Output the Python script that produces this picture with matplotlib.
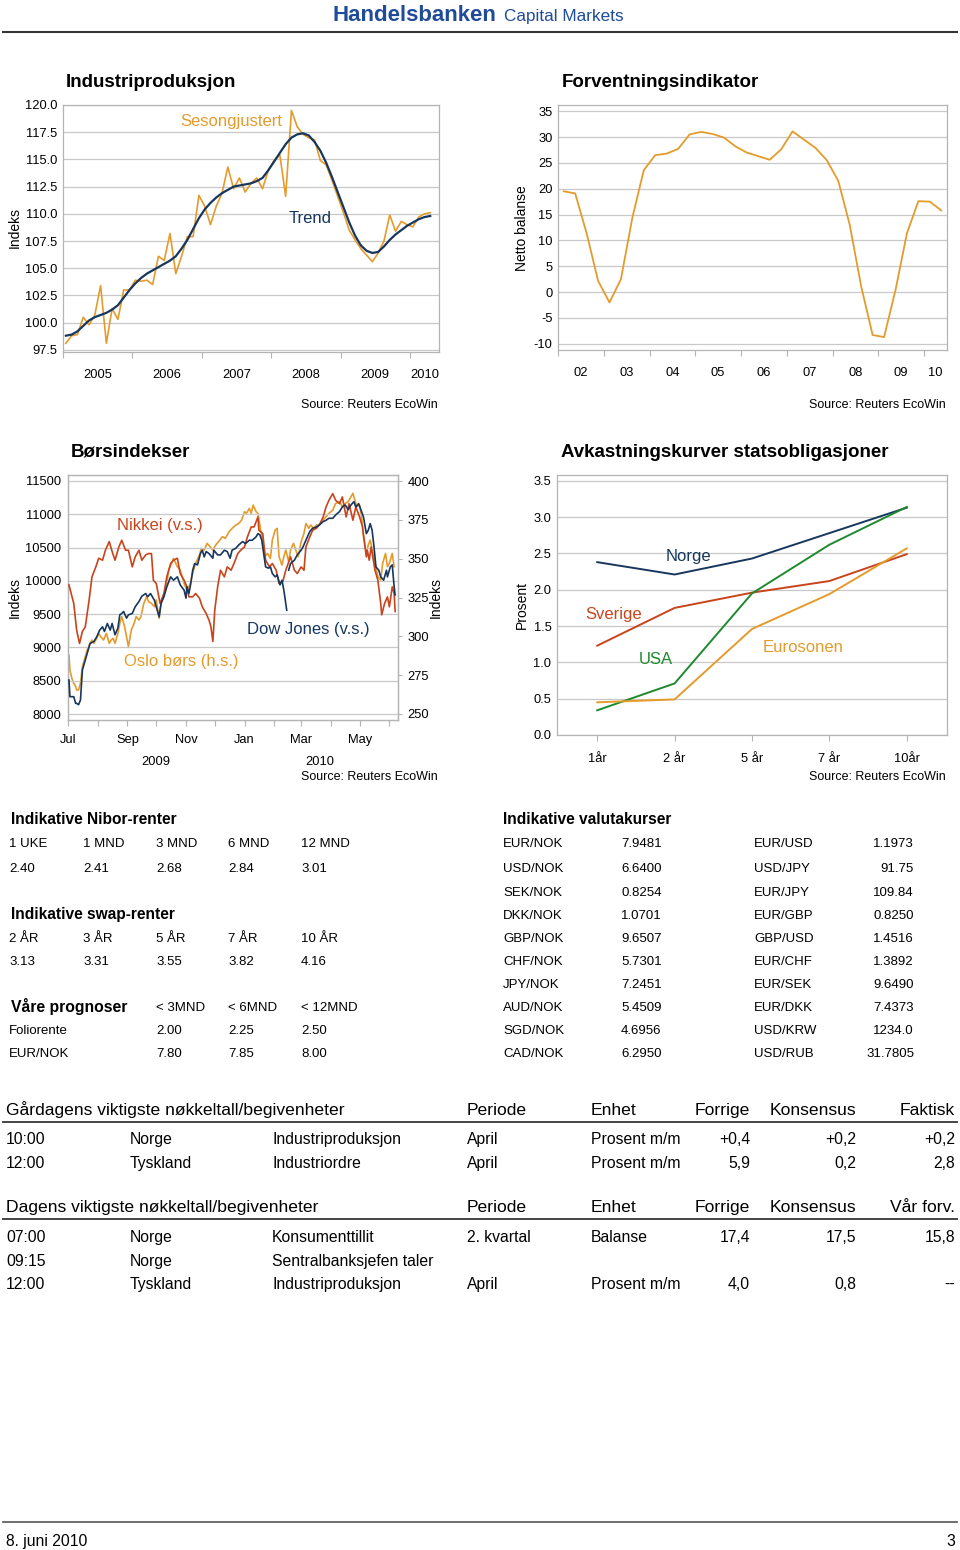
import numpy as np
import matplotlib
matplotlib.use("Agg")
import matplotlib.pyplot as plt
from matplotlib import font_manager

# ---------------- data ----------------
ip_sa = [98.1, 98.8, 98.9, 100.5, 99.8, 100.7, 103.4, 98.1, 101.3, 100.3, 103.0, 103.0,
         103.9, 103.8, 103.9, 103.5, 106.1, 105.7, 108.2, 104.5, 106.1, 107.9, 107.9, 111.7,
         110.7, 109.0, 110.7, 111.9, 114.3, 112.3, 113.3, 112.0, 112.8, 113.3, 112.3, 114.0,
         114.9, 115.4, 111.6, 119.5, 118.0, 117.3, 117.0, 116.8, 114.9, 114.5, 113.1, 111.6,
         110.1, 108.5, 107.6, 106.8, 106.2, 105.6, 106.4, 107.5, 109.9, 108.4, 109.3, 109.0,
         108.8, 109.7, 110.0, 110.1]
ip_trend = [98.8, 98.9, 99.2, 99.7, 100.2, 100.5, 100.7, 100.9, 101.2, 101.6, 102.3, 103.0,
            103.6, 104.1, 104.5, 104.8, 105.1, 105.4, 105.7, 106.1, 106.8, 107.6, 108.6, 109.6,
            110.4, 111.0, 111.5, 111.9, 112.2, 112.5, 112.6, 112.7, 112.8, 113.0, 113.3, 114.0,
            114.8, 115.6, 116.4, 117.0, 117.3, 117.4, 117.2, 116.6, 115.8, 114.7, 113.4, 112.0,
            110.6, 109.2, 108.0, 107.1, 106.6, 106.4, 106.5, 107.0, 107.6, 108.1, 108.5, 108.9,
            109.2, 109.5, 109.7, 109.8]
ip_start_year = 2005
ip_years = ['2005', '2006', '2007', '2008', '2009', '2010']

fi_values = [19.5, 19.1, 11.4, 2.2, -2.0, 2.5, 14.4, 23.6, 26.5, 26.8, 27.7, 30.5,
             31.0, 30.6, 29.9, 28.2, 27.0, 26.3, 25.6, 27.6, 31.1, 29.5, 27.9, 25.5,
             21.5, 13.0, 1.1, -8.3, -8.7, 0.4, 11.4, 17.6, 17.5, 15.8]
fi_start_year = 2002
fi_years = ['02', '03', '04', '05', '06', '07', '08', '09', '10']

# days since 1 July 2009
nikkei_day = [1, 6, 9, 12, 15, 18, 22, 25, 29, 32, 36, 39, 43, 46, 49, 53, 56, 60, 63, 67,
              70, 74, 77, 81, 84, 87, 89, 92, 96, 100, 103, 107, 110, 114, 117, 121, 124, 126,
              130, 133, 137, 140, 144, 147, 149, 151, 153, 156, 159, 163, 166, 170, 173, 177,
              180, 184, 187, 191, 194, 198, 199, 203, 206, 210, 213, 217, 220, 224, 227, 232,
              236, 239, 243, 246, 248, 252, 255, 259, 262, 266, 269, 272, 276, 279, 283, 286,
              290, 293, 297, 300, 304, 307, 311, 312, 314, 316, 320, 323, 326, 327, 330, 333,
              335, 338, 340, 341]
nikkei_val = [9940, 9660, 9260, 9060, 9240, 9310, 9710, 10060, 10210, 10340, 10310, 10460,
              10590, 10440, 10310, 10510, 10610, 10460, 10460, 10210, 10360, 10460, 10310,
              10390, 10410, 10410, 10010, 9960, 9660, 9810, 10060, 10260, 10310, 10340, 10110,
              10010, 9910, 9760, 9760, 9810, 9740, 9610, 9510, 9410, 9310, 9090, 9560, 9910,
              10160, 10060, 10210, 10160, 10260, 10410, 10460, 10510, 10660, 10810, 10810,
              10960, 10760, 10710, 10310, 10210, 10260, 10160, 9960, 9990, 10160, 10360,
              10160, 10110, 10210, 10160, 10510, 10660, 10760, 10790, 10840, 10960, 11110,
              11210, 11310, 11210, 11160, 11260, 10960, 11160, 10910, 11110, 10960, 10810,
              10360, 10460, 10310, 10510, 10160, 10010, 9660, 9490, 9660, 9760, 9610, 9910,
              9810, 9540]

dow_day = [1, 2, 6, 8, 9, 11, 13, 15, 17, 20, 23, 27, 30, 33, 36, 38, 41, 44, 46, 49, 52,
           54, 56, 58, 61, 63, 67, 70, 74, 77, 81, 83, 86, 90, 92, 95, 97, 100, 103, 107, 110,
           114, 117, 121, 123, 124, 126, 128, 130, 132, 135, 138, 140, 142, 144, 147, 151,
           152, 156, 159, 163, 166, 169, 171, 175, 178, 182, 185, 189, 192, 196, 198, 200,
           202, 204, 206, 209, 211, 213, 216, 218, 221, 223, 225, 228, 228.5, 230, 232, 236,
           239, 243, 245, 248, 252, 255, 259, 262, 266, 269, 272, 276, 279, 283, 286, 289,
           292, 295, 298, 300, 303, 306, 308, 311, 313, 315, 317, 319, 321, 324, 326, 329,
           332, 333, 336, 338, 340, 341]
dow_val = [8510, 8260, 8260, 8160, 8160, 8140, 8210, 8660, 8760, 8910, 9060, 9090, 9160,
           9260, 9310, 9240, 9360, 9260, 9360, 9190, 9290, 9490, 9510, 9540, 9440, 9490,
           9510, 9610, 9690, 9770, 9810, 9760, 9810, 9710, 9610, 9460, 9660, 9760, 9910,
           10060, 10010, 10060, 9940, 9860, 9740, 9910, 9810, 9960, 10160, 10260, 10240,
           10410, 10460, 10360, 10440, 10410, 10340, 10460, 10390, 10390, 10460, 10440,
           10340, 10460, 10490, 10540, 10590, 10560, 10610, 10610, 10660, 10710, 10690,
           10610, 10410, 10210, 10190, 10210, 10110, 10060, 10090, 9940, 10010, 9860, 9560,
           np.nan, 10160, 10260, 10310, 10390, 10460, 10510, 10610, 10740, 10790, 10810,
           10840, 10890, 10910, 10940, 10940, 10990, 11040, 11110, 11140, 11070, 11140,
           11190, 11110, 11160, 11040, 10960, 10710, 10760, 10860, 10760, 10510, 10210,
           10160, 10060, 10010, 10160, 10060, 10210, 10240, 9910, 9790]

oslo_day = [1, 2, 4, 6, 8, 9, 11, 13, 15, 17, 20, 23, 25, 27, 30, 32, 34, 37, 40, 43, 45,
            47, 49, 52, 54, 56, 59, 61, 63, 66, 69, 71, 74, 76, 79, 82, 84, 87, 90, 92, 95,
            97, 100, 103, 105, 108, 110, 114, 117, 121, 124, 127, 130, 133, 137, 139, 142,
            145, 148, 151, 154, 157, 161, 164, 168, 171, 175, 178, 181, 184, 186, 189, 191,
            193, 196, 198, 200, 203, 205, 208, 211, 213, 216, 218, 220, 223, 225, 227, 230,
            232, 235, 238, 240, 243, 246, 248, 251, 253, 256, 259, 262, 266, 269, 272, 276,
            279, 283, 286, 289, 292, 294, 297, 299, 301, 304, 306, 308, 311, 313, 315, 318,
            320, 323, 326, 328, 331, 333, 335, 338, 340]
oslo_val = [288.0, 278.3, 273.0, 269.7, 267.6, 265.4, 265.4, 269.7, 280.5, 284.8, 291.2,
            295.5, 297.6, 295.5, 298.7, 301.9, 299.8, 297.6, 301.9, 295.5, 297.6, 298.7,
            295.5, 301.9, 308.4, 312.7, 306.2, 299.8, 293.3, 304.1, 308.4, 312.7, 310.5,
            312.7, 321.2, 325.5, 322.3, 321.2, 319.1, 323.4, 311.6, 321.2, 327.7, 334.1,
            342.7, 347.0, 350.2, 344.8, 342.7, 334.1, 329.8, 333.0, 340.6, 347.0, 352.4,
            356.7, 355.6, 359.9, 357.7, 355.6, 358.8, 361.0, 364.2, 363.1, 367.4, 369.5,
            371.7, 372.7, 374.9, 380.3, 379.2, 382.4, 379.2, 384.5, 380.3, 379.2, 371.7,
            361.0, 351.3, 353.4, 350.2, 362.0, 368.5, 369.5, 351.3, 345.9, 351.3, 355.6,
            348.1, 355.6, 359.9, 354.5, 351.3, 360.9, 366.3, 372.7, 369.5, 371.7, 369.5,
            371.7, 371.7, 374.9, 377.0, 379.2, 381.3, 385.6, 386.7, 383.5, 385.6, 386.7,
            388.8, 392.1, 387.8, 383.5, 384.5, 377.0, 364.2, 353.4, 358.8, 362.0, 353.4,
            347.0, 338.4, 336.3, 347.0, 353.4, 344.8, 347.0, 353.4, 344.8]
month_start_days = [0, 31, 62, 92, 123, 153, 184, 215, 243, 274, 304, 335]
month_labels = ['Jul', '', 'Sep', '', 'Nov', '', 'Jan', '', 'Mar', '', 'May', '']

maturities = ['1år', '2 år', '5 år', '7 år', '10år']
yc_norge = [2.38, 2.21, 2.43, 2.78, 3.13]
yc_sverige = [1.23, 1.75, 1.96, 2.12, 2.49]
yc_usa = [0.34, 0.71, 1.95, 2.62, 3.14]
yc_euro = [0.45, 0.49, 1.46, 1.94, 2.57]

nibor_hdr = ['1 UKE', '1 MND', '3 MND', '6 MND', '12 MND']
nibor_val = ['2.40', '2.41', '2.68', '2.84', '3.01']
swap_hdr = ['2 ÅR', '3 ÅR', '5 ÅR', '7 ÅR', '10 ÅR']
swap_val = ['3.13', '3.31', '3.55', '3.82', '4.16']
prog_hdr = ['< 3MND', '< 6MND', '< 12MND']
prog_rows = [('Foliorente', ['2.00', '2.25', '2.50']),
             ('EUR/NOK', ['7.80', '7.85', '8.00'])]
fx_left = [('EUR/NOK', '7.9481'), ('USD/NOK', '6.6400'), ('SEK/NOK', '0.8254'),
           ('DKK/NOK', '1.0701'), ('GBP/NOK', '9.6507'), ('CHF/NOK', '5.7301'),
           ('JPY/NOK', '7.2451'), ('AUD/NOK', '5.4509'), ('SGD/NOK', '4.6956'),
           ('CAD/NOK', '6.2950')]
fx_right = [('EUR/USD', '1.1973'), ('USD/JPY', '91.75'), ('EUR/JPY', '109.84'),
            ('EUR/GBP', '0.8250'), ('GBP/USD', '1.4516'), ('EUR/CHF', '1.3892'),
            ('EUR/SEK', '9.6490'), ('EUR/DKK', '7.4373'), ('USD/KRW', '1234.0'),
            ('USD/RUB', '31.7805')]
yest_hdr = ['Gårdagens viktigste nøkkeltall/begivenheter', 'Periode', 'Enhet', 'Forrige',
            'Konsensus', 'Faktisk']
yest_rows = [['10:00', 'Norge', 'Industriproduksjon', 'April', 'Prosent m/m', '+0,4', '+0,2', '+0,2'],
             ['12:00', 'Tyskland', 'Industriordre', 'April', 'Prosent m/m', '5,9', '0,2', '2,8']]
today_hdr = ['Dagens viktigste nøkkeltall/begivenheter', 'Periode', 'Enhet', 'Forrige',
             'Konsensus', 'Vår forv.']
today_rows = [['07:00', 'Norge', 'Konsumenttillit', '2. kvartal', 'Balanse', '17,4', '17,5', '15,8'],
              ['09:15', 'Norge', 'Sentralbanksjefen taler', '', '', '', '', ''],
              ['12:00', 'Tyskland', 'Industriproduksjon', 'April', 'Prosent m/m', '4,0', '0,8', '--']]

# ---------------- style ----------------
names = {f.name for f in font_manager.fontManager.ttflist}
SANS = 'Liberation Sans' if 'Liberation Sans' in names else 'DejaVu Sans'
plt.rcParams['font.family'] = [SANS, 'DejaVu Sans']
plt.rcParams['axes.unicode_minus'] = False

ORANGE = '#E59B2C'
NAVY = '#17375E'
RED = '#C9441B'
GREEN = '#1E8A2E'
GRID = '#C8C8C8'
FRAME = '#B4B4B4'
BLUE = '#1F4B99'
TICK = 9.3

W, H = 960, 1550
fig = plt.figure(figsize=(W / 100, H / 100), dpi=100)


def fx(x):
    return x / W


def fy(y):
    return 1 - y / H


def T(x, y, s, **kw):
    """Place text with its cap-height centre at pixel (x, y) from top-left."""
    kw.setdefault('ha', 'left')
    size = kw.setdefault('fontsize', 10)
    if kw.get('rotation', 0):
        kw.setdefault('va', 'center')
        fig.text(fx(x), fy(y), s, **kw)
    else:
        kw['va'] = 'baseline'
        fig.text(fx(x), fy(y + 0.5 * size), s, **kw)


def make_ax(l, t, r, b):
    ax = fig.add_axes([fx(l), fy(b), (r - l) / W, (b - t) / H])
    for sp in ax.spines.values():
        sp.set_color(FRAME)
        sp.set_linewidth(0.9)
    ax.grid(axis='y', color=GRID, lw=0.9)
    ax.set_axisbelow(True)
    ax.tick_params(axis='y', length=0, labelsize=TICK, pad=4)
    ax.tick_params(axis='x', length=4, color=FRAME, labelsize=TICK, direction='out')
    return ax


# header / footer
T(332, 13, 'Handelsbanken', fontsize=16, fontweight='bold', color=BLUE)
T(504, 15, 'Capital Markets', fontsize=12.3, color=BLUE)
fig.add_artist(plt.Line2D([fx(3), fx(957)], [fy(32), fy(32)], color='#333333', lw=1.5))
fig.add_artist(plt.Line2D([fx(3), fx(957)], [fy(1522), fy(1522)], color='#555555', lw=1.2))
T(6, 1540, '8. juni 2010', fontsize=11.3)
T(955, 1540, '3', fontsize=11.3, ha='right')

TITLE = 13.5
LAB = 12
SRC = 9

# ---------------- chart 1 ----------------
ax1 = make_ax(63, 105, 439, 352)
x1 = ip_start_year + (np.arange(len(ip_sa)) + 0.5) / 12
ax1.plot(x1, ip_sa, color=ORANGE, lw=1.2)
ax1.plot(x1, ip_trend, color=NAVY, lw=1.6)
ax1.set_ylim(97.3, 120)
ax1.set_yticks(np.arange(97.5, 120.01, 2.5))
ax1.set_yticklabels(['%.1f' % v for v in np.arange(97.5, 120.01, 2.5)])
ax1.set_xlim(2005, 2010.418)
ax1.set_xticks(np.arange(2005, 2011))
ax1.set_xticklabels([])
ax1.set_xticks([2005.5, 2006.5, 2007.5, 2008.5, 2009.5, 2010.21], minor=True)
ax1.set_xticklabels(ip_years, minor=True)
ax1.tick_params(axis='x', which='minor', length=0, pad=12, labelsize=TICK)
T(66, 80, 'Industriproduksjon', fontsize=TITLE, fontweight='bold')
T(15, 228, 'Indeks', fontsize=10, rotation=90, ha='center')
T(438, 404, 'Source: Reuters EcoWin', fontsize=SRC, ha='right')
T(231, 120, 'Sesongjustert', fontsize=LAB, color=ORANGE, ha='center')
T(310, 217, 'Trend', fontsize=LAB, color=NAVY, ha='center')

# ---------------- chart 2 ----------------
ax2 = make_ax(558, 105, 947, 350)
x2 = fi_start_year + 0.125 + np.arange(len(fi_values)) * 0.25
ax2.plot(x2, fi_values, color=ORANGE, lw=1.3)
ax2.set_ylim(-11.2, 36.2)
ax2.set_yticks(np.arange(-10, 36, 5))
ax2.set_xlim(2002, 2010.5)
ax2.set_xticks(np.arange(2002, 2011))
ax2.set_xticklabels([])
ax2.set_xticks(list(np.arange(2002.5, 2010, 1.0)) + [2010.25], minor=True)
ax2.set_xticklabels(fi_years, minor=True)
ax2.tick_params(axis='x', which='minor', length=0, pad=12, labelsize=TICK)
T(562, 80, 'Forventningsindikator', fontsize=TITLE, fontweight='bold')
T(522, 228, 'Netto balanse', fontsize=10, rotation=90, ha='center')
T(946, 404, 'Source: Reuters EcoWin', fontsize=SRC, ha='right')

# ---------------- chart 3 ----------------
ax3 = make_ax(68, 475, 398, 720)
ax3.plot(nikkei_day, nikkei_val, color=RED, lw=1.2, zorder=3)
ax3.plot(dow_day, dow_val, color=NAVY, lw=1.2, zorder=4)
ax3.set_ylim(7910, 11590)
ax3.set_yticks(np.arange(8000, 11501, 500))
ax3.set_xlim(0, 344)
ax3.set_xticks(month_start_days)
ax3.set_xticklabels(month_labels)
ax3.tick_params(axis='x', pad=6)
ax3.tick_params(axis='y', pad=5)
ax3b = ax3.twinx()
ax3b.plot(oslo_day, oslo_val, color=ORANGE, lw=1.2, zorder=2)
ax3b.set_ylim(246.1, 403.9)
ax3b.set_yticks(np.arange(250, 401, 25))
ax3b.tick_params(axis='y', length=3, color=FRAME, labelsize=TICK, pad=4)
for sp in ax3b.spines.values():
    sp.set_color(FRAME)
    sp.set_linewidth(0.9)
ax3.set_zorder(ax3b.get_zorder() + 1)
ax3.patch.set_visible(False)
T(71, 450, 'Børsindekser', fontsize=TITLE, fontweight='bold')
T(15, 597, 'Indeks', fontsize=10, rotation=90, ha='center')
T(436, 597, 'Indeks', fontsize=10, rotation=90, ha='center')
T(156, 760, '2009', fontsize=TICK, ha='center')
T(320, 760, '2010', fontsize=TICK, ha='center')
T(438, 775, 'Source: Reuters EcoWin', fontsize=SRC, ha='right')
T(160, 524, 'Nikkei (v.s.)', fontsize=LAB, color=RED, ha='center')
T(181, 660, 'Oslo børs (h.s.)', fontsize=LAB, color=ORANGE, ha='center')
T(308, 628, 'Dow Jones (v.s.)', fontsize=LAB, color=NAVY, ha='center')

# ---------------- chart 4 ----------------
ax4 = make_ax(557, 475, 947, 735)
xc = np.arange(len(maturities))
ax4.plot(xc, yc_norge, color=NAVY, lw=1.4)
ax4.plot(xc, yc_sverige, color=RED, lw=1.4)
ax4.plot(xc, yc_usa, color=GREEN, lw=1.4)
ax4.plot(xc, yc_euro, color=ORANGE, lw=1.4)
ax4.set_ylim(0, 3.58)
ax4.set_yticks(np.arange(0, 3.51, 0.5))
ax4.set_yticklabels(['%.1f' % v for v in np.arange(0, 3.51, 0.5)])
ax4.set_xlim(-0.52, 4.52)
ax4.set_xticks(xc)
ax4.set_xticklabels(maturities)
ax4.tick_params(axis='x', pad=9)
T(561, 450, 'Avkastningskurver statsobligasjoner', fontsize=TITLE, fontweight='bold')
T(522, 605, 'Prosent', fontsize=10, rotation=90, ha='center')
T(946, 775, 'Source: Reuters EcoWin', fontsize=SRC, ha='right')
T(688, 555, 'Norge', fontsize=LAB, color=NAVY, ha='center')
T(614, 613, 'Sverige', fontsize=LAB, color=RED, ha='center')
T(656, 658, 'USA', fontsize=LAB, color=GREEN, ha='center')
T(803, 646, 'Eurosonen', fontsize=LAB, color=ORANGE, ha='center')

# ---------------- tables (rates) ----------------
TS = dict(fontsize=9.5)
TB = dict(fontsize=11.2, fontweight='bold')
cols5 = [9, 83, 156, 228, 301]
T(11, 818, 'Indikative Nibor-renter', **TB)
for c, s in zip(cols5, nibor_hdr):
    T(c, 842, s, **TS)
for c, s in zip(cols5, nibor_val):
    T(c, 867, s, **TS)
T(11, 913, 'Indikative swap-renter', **TB)
for c, s in zip(cols5, swap_hdr):
    T(c, 937, s, **TS)
for c, s in zip(cols5, swap_val):
    T(c, 960, s, **TS)
T(11, 1006, 'Våre prognoser', fontsize=11.3, fontweight='bold')
for c, s in zip(cols5[2:], prog_hdr):
    T(c, 1006, s, **TS)
for r, (lab, vals) in enumerate(prog_rows):
    y = 1029 + r * 23
    T(9, y, lab, **TS)
    for c, s in zip(cols5[2:], vals):
        T(c, y, s, **TS)

T(503, 818, 'Indikative valutakurser', **TB)
fx_y = [842, 867, 891, 914, 937, 960, 983, 1006, 1029, 1052]
for y, (a, b), (c, d) in zip(fx_y, fx_left, fx_right):
    T(503, y, a, **TS)
    T(621, y, b, **TS)
    T(754, y, c, **TS)
    T(914, y, d, ha='right', **TS)

# ---------------- event tables ----------------
EH = dict(fontsize=12.6)
ES = dict(fontsize=11.3)
left_cols = [6, 130, 272, 467, 591]
right_cols = [750, 856, 955]


def event_table(hdr_y, line_y, hdr, rows, row_y):
    T(6, hdr_y, hdr[0], **EH)
    T(467, hdr_y, hdr[1], **EH)
    T(591, hdr_y, hdr[2], **EH)
    for c, s in zip(right_cols, hdr[3:]):
        T(c, hdr_y, s, ha='right', **EH)
    fig.add_artist(plt.Line2D([fx(3), fx(957)], [fy(line_y), fy(line_y)], color='#444444', lw=1.4))
    for y, row in zip(row_y, rows):
        for c, s in zip(left_cols, row[:5]):
            T(c, y, s, **ES)
        for c, s in zip(right_cols, row[5:]):
            T(c, y, s, ha='right', **ES)


event_table(1109, 1122, yest_hdr, yest_rows, [1138, 1162])
event_table(1206, 1219, today_hdr, today_rows, [1236, 1260, 1283])

fig.savefig('out.png', dpi=100, facecolor='white')
